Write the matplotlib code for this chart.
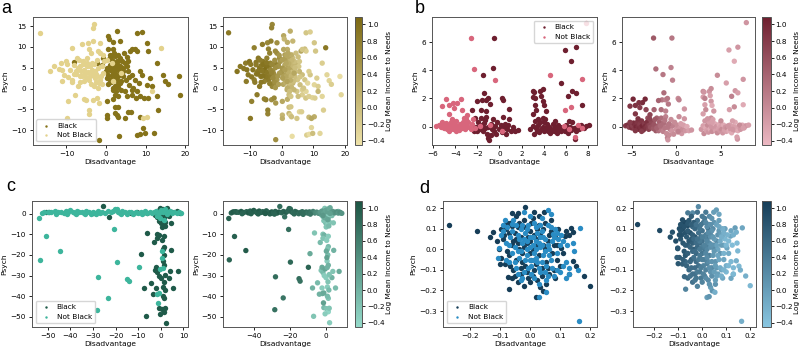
import numpy as np
import matplotlib

matplotlib.use("Agg")
import matplotlib.pyplot as plt
from matplotlib.colors import LinearSegmentedColormap

plt.rcParams["font.size"] = 5.2
plt.rcParams["axes.edgecolor"] = "#555555"
plt.rcParams["axes.linewidth"] = 0.7
for ax_ in ("xtick", "ytick"):
    plt.rcParams[f"{ax_}.major.size"] = 2.5
    plt.rcParams[f"{ax_}.major.width"] = 0.6
    plt.rcParams[f"{ax_}.major.pad"] = 2.0

# ---- panel a : (Disadvantage, Psych, Log mean income to needs) ----
a_black = [
    (2.7, 13.8, 0.2), (0.6, 12.7, 0.3), (0.8, 11.9, 0.1), (1.8, 11.1, 0.2), (7.7, 13.4, -0.1),
    (9.0, 13.6, -0.2), (10.3, 11.0, -0.1), (7.3, 9.5, 0.0), (7.7, 9.0, -0.2), (6.1, 9.0, 0.3),
    (10.7, 9.0, -0.1), (12.8, 6.1, -0.2), (14.3, 3.3, -0.3), (15.0, 1.9, -0.3), (15.7, 1.0, -0.2),
    (18.4, 2.9, -0.4), (18.8, -1.5, -0.3), (13.2, -5.2, -0.2), (12.1, -10.8, -0.3), (9.4, -9.4, -0.3),
    (7.9, -11.2, -0.2), (8.7, -11.0, -0.4), (9.8, -10.8, 0.0), (3.3, -11.5, -0.4), (-1.9, -12.3, 0.6),
    (0.2, -6.4, 0.1), (0.2, -7.2, 0.2), (0.2, -3.1, 0.3), (2.3, -4.5, 0.0), (2.9, -4.4, -0.1),
    (2.3, -6.0, 0.1), (2.7, -6.4, -0.2), (3.1, -6.8, 0.0), (4.8, -7.2, -0.1), (5.6, -5.6, -0.3),
    (6.3, -5.6, -0.2), (8.6, -6.9, 0.1), (9.7, -2.2, -0.3), (10.5, -2.3, -0.2), (7.6, -2.3, -0.1),
    (6.5, -1.5, -0.2), (5.2, -1.9, 0.0), (4.8, -0.7, -0.1), (3.9, -0.3, 0.1), (2.3, -1.5, 0.0),
    (1.8, -2.6, 0.2), (1.7, -0.3, 0.2), (12.8, -1.9, -0.3), (11.1, 2.5, -0.2), (9.0, 3.3, -0.1),
    (8.6, 4.1, -0.2), (7.3, 2.1, -0.1), (8.2, 1.3, -0.3), (6.5, 3.3, 0.0), (5.6, 4.1, 0.1),
    (5.0, 2.1, -0.1), (3.5, 1.3, 0.1), (4.2, 2.9, 0.0), (1.0, 5.7, 0.3), (1.7, 4.9, 0.2),
    (2.3, 5.3, 0.4), (2.9, 4.5, 0.1), (1.8, 3.7, 0.3), (0.6, 3.3, 0.4), (1.0, 2.1, 0.2),
    (2.0, 2.5, 0.1), (2.7, 3.3, 0.2), (3.4, 4.1, 0.0), (1.4, 6.9, 0.3), (2.7, 6.5, 0.2),
    (3.1, 5.7, 0.1), (3.5, 7.3, 0.0), (4.8, 6.1, 0.1), (5.4, 5.3, -0.1), (3.9, 4.9, 0.2),
    (4.4, 4.1, 0.0), (5.6, 6.5, -0.1), (5.2, 7.6, 0.0), (1.0, 8.1, 0.4), (2.3, 7.7, 0.3),
    (3.1, 8.1, 0.2), (1.8, 9.4, 0.2), (0.6, 9.4, 0.3), (3.5, 11.4, 0.1), (6.5, 9.4, -0.1),
    (0.2, 4.9, 0.5), (0.0, 4.1, 0.5), (2.3, 0.5, 0.1), (2.7, 0.9, 0.0), (3.1, 0.3, 0.1),
    (1.8, 0.1, 0.2), (2.5, -0.7, 0.0), (2.9, -1.9, -0.1), (-1.1, 5.7, 0.7), (-2.2, 6.1, 0.8),
    (-8.1, 6.3, 0.9), (-0.7, 7.3, 0.6), (6.5, -0.3, -0.2), (7.7, -0.7, -0.3), (8.6, -1.9, -0.2),
    (10.3, 0.9, -0.3), (11.5, 0.5, -0.2), (6.9, 0.1, -0.1), (5.8, 0.9, 0.0),
    (0.5, 1.0, 0.3), (1.2, 1.5, 0.2), (1.5, 3.0, 0.3), (2.0, 4.0, 0.2), (2.5, 5.0, 0.3),
    (3.0, 3.0, 0.1), (3.5, 5.5, 0.1), (4.0, 6.5, 0.0), (0.8, 7.0, 0.4), (2.0, 8.5, 0.3),
    (4.5, 8.5, 0.0), (3.8, 1.8, 0.0), (2.8, 2.0, 0.2), (1.0, 4.5, 0.4), (0.3, 2.5, 0.4),
    (3.2, 6.8, 0.1), (4.2, 5.0, 0.0), (2.2, 6.0, 0.2), (1.5, 8.0, 0.3), (5.8, 2.8, -0.1),
]
a_notblack = [
    (-16.8, 13.4, 0.9), (-14.1, 4.1, 0.95), (-13.1, 5.3, 0.9), (-11.4, 6.1, 0.85), (-10.2, 6.5, 0.95),
    (-9.5, -3.1, 0.8), (-9.9, -7.2, 0.9), (-8.7, 2.1, 0.8), (-8.1, 5.7, 0.85), (-7.4, 7.3, 0.9),
    (-6.1, 10.6, 0.85), (-4.5, 11.0, 0.7), (-8.7, 9.8, 0.8), (-7.0, 4.9, 0.95), (-6.6, 2.9, 0.9),
    (-5.3, 3.7, 0.85), (-5.9, 6.5, 0.9), (-4.7, 7.3, 0.8), (-4.0, 5.3, 0.9), (-5.0, -2.7, 0.85),
    (-4.4, -5.2, 0.8), (-4.4, -6.1, 0.75), (-3.0, 15.4, 0.7), (-3.2, 14.6, 0.75), (-3.2, -2.7, 0.6),
    (-2.4, -2.3, 0.7), (-1.9, -3.5, 0.5), (-3.6, 6.1, 0.8), (-2.8, 4.1, 0.7), (-2.4, 2.9, 0.6),
    (-1.5, 2.1, 0.5), (-1.1, 5.3, 0.55), (-1.5, 8.5, 0.6), (-0.5, 6.5, 0.5), (0.2, 6.9, 0.4),
    (-0.7, 3.7, 0.45), (-1.9, 1.3, 0.6), (-3.6, 3.3, 0.75), (-4.2, 2.1, 0.85), (-5.5, 1.7, 0.8),
    (-7.6, 4.1, 0.9), (-9.1, 4.5, 0.95), (-10.6, 3.3, 0.9), (-11.2, 1.7, 0.85), (13.9, 9.8, 0.9),
    (11.5, -0.7, 0.1), (10.3, -6.8, 0.2), (9.4, -7.2, 0.3), (3.9, 3.7, 0.3), (1.7, 1.7, 0.35),
    (1.4, 6.1, 0.3), (-3.4, 11.4, 0.8), (-4.9, 5.3, 0.95), (-1.5, 11.0, 0.6), (-6.5, 5.5, 0.9),
    (-5.5, 4.5, 1.0), (-4.5, 4.0, 0.9), (-3.5, 4.5, 0.7), (-2.5, 3.5, 0.65), (-2.0, 5.0, 0.6),
    (-3.0, 5.8, 0.7), (-4.0, 3.0, 0.85), (-5.0, 2.8, 0.9), (-6.0, 3.0, 0.95), (-2.5, 1.5, 0.6),
    (-1.0, 1.0, 0.4), (-8.5, 1.5, 0.85), (-7.0, 0.5, 0.9), (-11.0, 4.5, 0.95), (-3.0, 0.5, 0.7),
    (-2.0, 0.2, 0.5), (-7.8, -1.5, 0.85), (-5.5, -2.5, 0.8), (-9.8, 5.8, 0.9), (-12.0, 4.8, 0.9),
    (-8.0, 3.5, 0.9), (-6.8, 6.8, 0.85), (-3.8, 8.5, 0.8), (-2.2, 6.8, 0.6), (-0.8, 8.0, 0.5),
    (-7.5, 3.5, 0.95), (-6.2, 4.2, 0.9), (-5.8, 5.8, 0.95), (-4.8, 6.2, 0.9), (-3.2, 3.8, 0.75),
    (-2.8, 2.5, 0.65), (-3.8, 1.2, 0.8), (-6.5, 1.5, 0.9), (-9.5, 2.8, 0.9), (-4.2, 9.5, 0.8),
    (-2.0, 9.0, 0.65), (-1.2, 3.0, 0.5),
]

# ---- panel b ----
b_black = [
    (-0.5, 6.3, 0.2), (-0.6, 4.2, 0.1), (-1.5, 3.7, 0.2), (-1.4, 2.4, 0.3), (-1.6, 1.9, 0.2),
    (-2.0, 1.85, 0.4), (-1.2, 1.9, 0.1), (-1.0, 2.0, 0.2), (0.2, 2.0, 0.0), (0.3, 1.9, 0.1),
    (0.9, 1.25, -0.1), (-2.5, 1.2, 0.4), (-1.7, 1.2, 0.3), (-0.9, 1.6, 0.2), (-1.2, 1.1, 0.1),
    (5.9, 5.45, -0.2), (6.9, 5.65, -0.1), (6.5, 4.65, -0.3), (5.6, 3.1, -0.2), (6.2, 2.15, 0.1),
    (6.6, 2.55, -0.1), (6.9, 2.4, -0.2), (7.5, 1.55, -0.3), (3.0, 2.5, 0.0), (3.1, 2.45, -0.1),
    (3.0, 2.1, -0.2), (3.2, 2.0, 0.1), (3.7, 2.5, -0.1), (3.9, 2.7, 0.0), (3.8, 2.2, -0.2),
    (3.9, 1.8, -0.1), (3.2, 1.55, -0.2), (3.3, 1.2, 0.0), (4.0, 1.5, -0.3), (4.2, 1.1, -0.1),
    (3.0, 0.9, -0.2), (3.9, 0.6, 0.0),
    (-2.3, -0.3, 0.5), (-2.1, 0.0, 0.4), (-2.0, -0.3, 0.3), (-1.9, 0.3, 0.4), (-1.8, -0.2, 0.2),
    (-1.7, 0.6, 0.3), (-1.6, 0.1, 0.2), (-1.5, -0.35, 0.1), (-1.4, 0.25, 0.3), (-1.3, -0.1, 0.2),
    (-1.2, 0.7, 0.1), (-1.1, -0.5, 0.0), (-1.0, -0.8, 0.1), (-0.95, -0.95, -0.1), (-0.8, -0.6, 0.0),
    (-0.8, 0.2, 0.2), (-0.7, -0.2, 0.1), (-0.6, 0.5, 0.0), (-0.5, -0.3, -0.1), (-0.4, 0.05, 0.1),
    (-0.2, 0.3, 0.0), (0.0, -0.2, -0.1), (0.1, 0.1, 0.0), (0.2, -0.4, -0.2), (0.3, 0.7, 0.0),
    (0.4, -0.1, -0.1), (0.5, 0.2, -0.2), (0.6, -0.5, -0.1), (0.7, -0.2, 0.0), (0.8, 0.1, -0.2),
    (1.0, -0.3, -0.1), (1.2, 0.0, -0.3), (1.4, -0.3, -0.2), (1.7, -0.25, -0.1), (-2.5, 0.05, 0.5),
    (-2.2, 0.6, 0.4), (-1.0, -0.05, 0.2), (-0.3, -0.55, 0.0), (0.9, 0.55, -0.1), (-1.3, 0.45, 0.2),
    (2.8, -0.2, -0.1), (3.0, 0.05, -0.2), (3.1, -0.5, 0.0), (3.2, 0.4, -0.1), (3.3, -0.1, -0.3),
    (3.4, -0.3, -0.2), (3.5, 0.1, 0.0), (3.6, -0.4, -0.1), (3.7, 0.3, -0.2), (3.8, -0.2, -0.3),
    (3.9, 0.0, -0.1), (4.0, -0.35, 0.0), (4.1, 0.5, -0.2), (4.2, -0.1, -0.1), (4.3, 0.2, -0.3),
    (4.4, -0.3, -0.2), (4.5, 0.0, -0.1), (4.6, -0.45, 0.0), (4.7, -0.15, -0.2), (4.8, 0.15, -0.3),
    (4.9, -0.3, -0.1), (5.0, 0.0, -0.2), (5.1, -0.2, 0.0), (5.2, -0.45, -0.1), (5.3, 0.1, -0.3),
    (5.4, -0.25, -0.2), (5.5, -0.05, -0.1), (5.6, -0.35, -0.2), (5.7, -0.1, 0.0), (5.9, -0.3, -0.3),
    (6.0, 0.1, -0.2), (6.1, -0.2, -0.1), (6.2, -0.45, -0.3), (6.4, 0.0, -0.2), (6.5, -0.25, -0.1),
    (6.6, 0.3, -0.3), (6.7, -0.1, -0.2), (6.85, -0.9, -0.1), (6.9, -0.3, -0.3), (7.0, 0.0, -0.2),
    (7.2, -0.2, -0.1), (7.4, 0.1, -0.3), (7.6, -0.1, -0.2), (7.8, 0.05, -0.1), (8.1, 0.1, -0.2),
    (3.5, 0.55, -0.1), (4.0, 0.3, -0.2), (5.0, 0.4, 0.0), (6.3, 0.4, -0.2),
]
b_notblack = [
    (-4.85, 1.95, 1.0), (-4.6, 1.5, 0.9), (-5.2, 1.45, 0.85), (-4.1, 1.35, 0.8), (-3.8, 1.7, 0.95),
    (-3.5, 1.95, 1.0), (-4.2, 1.7, 0.9), (-3.4, 1.2, 0.7), (-3.2, 0.6, 0.6), (-4.6, 0.9, 0.85),
    (-2.56, 6.3, 0.5), (-2.3, 4.1, 0.3), (-0.43, 3.3, 0.1), (4.6, 3.65, 0.0), (7.5, 3.36, -0.1),
    (5.95, 1.2, -0.2), (6.5, 1.4, 0.0), (7.85, 7.4, -0.1),
    (-5.7, 0.05, 0.8), (-5.5, 0.1, 0.9), (-5.3, -0.05, 0.7), (-5.1, 0.15, 0.85), (-5.0, -0.1, 0.9),
    (-4.9, 0.05, 0.75), (-4.8, 0.25, 0.95), (-4.7, -0.15, 0.8), (-4.6, 0.1, 0.9), (-4.5, -0.05, 1.0),
    (-4.4, 0.3, 0.85), (-4.3, 0.0, 0.9), (-4.2, -0.2, 0.95), (-4.1, 0.15, 0.8), (-4.0, -0.05, 0.9),
    (-3.9, 0.4, 0.85), (-3.8, 0.05, 1.0), (-3.7, -0.25, 0.9), (-3.6, 0.2, 0.8), (-3.5, 0.0, 0.95),
    (-3.4, -0.1, 0.85), (-3.3, 0.3, 0.9), (-3.2, 0.05, 0.8), (-3.1, -0.2, 0.75), (-3.0, 0.1, 0.7),
    (-2.9, -0.05, 0.6), (-2.8, 0.35, 0.65), (-2.7, 0.0, 0.6), (-2.6, -0.15, 0.5), (-2.5, 0.15, 0.55),
    (-2.4, 0.5, 0.5), (-4.3, 0.55, 0.9), (-3.9, -0.35, 0.8), (-4.6, -0.3, 0.85), (-5.2, 0.3, 0.8),
    (-3.0, 0.55, 0.7), (-2.2, -0.1, 0.4), (-1.8, 0.05, 0.3), (0.2, -0.35, 0.1), (5.8, 0.05, -0.1),
    (6.8, -0.75, -0.2), (7.1, 0.1, 0.0), (6.3, -0.2, -0.1), (7.5, -0.1, -0.2), (-0.9, 0.1, 0.2),
    (-2.96, 0.84, 0.7),
]

# ---- panel c ----
c_black = [
    (-50.7, 0.8, 0.8), (-49.5, 0.6, 0.85), (-25.5, 3.4, 0.8), (-22.8, -1.6, 0.75), (-13.0, 0.3, 0.7),
    (-6.0, 0.4, 0.4), (-10.5, 0.6, 0.6), (-30.0, 0.2, 0.85), (5.0, 0.5, 0.1), (8.5, 0.2, -0.1),
    (7.0, 1.0, 0.0),
    (-2.0, 0.5, -0.1), (-1.0, 1.5, 0.0), (-0.5, 2.5, -0.2), (0.0, 0.0, -0.1), (0.5, 1.0, -0.3),
    (1.0, 2.0, 0.0), (1.5, 0.5, -0.2), (2.0, 1.5, -0.1), (2.5, 2.8, 0.1), (3.0, 0.8, -0.2),
    (-1.5, -1.5, -0.3), (-0.5, -2.8, -0.1), (0.5, -1.0, -0.2), (1.0, -3.5, -0.3), (1.5, -2.0, 0.0),
    (2.0, -4.0, -0.2), (0.0, -4.5, -0.1), (1.2, -5.2, -0.3), (4.3, -4.5, -0.2), (-2.5, -0.5, 0.0),
    (3.5, -1.0, -0.1), (-1.0, -3.5, -0.2), (0.8, 0.0, -0.4), (-0.2, 1.0, -0.2), (2.2, -0.5, -0.3),
    (0.3, -6.5, -0.2), (1.8, -6.0, -0.1),
    (-6.2, -9.4, -0.2), (-8.7, -19.4, 0.1), (-3.0, -14.0, -0.1), (-1.5, -10.0, -0.2), (-0.8, -10.5, 0.0),
    (1.5, -11.0, -0.3), (4.5, -17.8, 0.0), (1.5, -16.0, -0.1), (1.0, -17.2, -0.2), (0.8, -23.0, -0.3),
    (1.2, -20.0, -0.1), (1.5, -25.0, 0.0), (-2.5, -27.5, -0.2), (-2.0, -26.0, 0.1), (-1.5, -28.5, -0.1),
    (-0.8, -30.0, -0.3), (-4.5, -33.5, -0.1), (-7.3, -36.0, 0.0), (-6.7, -49.7, -0.2), (-2.0, -36.0, -0.3),
    (-1.0, -45.5, -0.1), (0.5, -46.0, -0.2), (2.2, -52.8, -0.3), (1.5, -47.5, -0.4), (1.5, -41.0, -0.2),
    (1.0, -35.5, -0.3), (1.8, -37.0, -0.1), (3.5, -31.0, 0.0), (4.0, -28.0, -0.2), (7.5, -28.0, 0.1),
    (5.5, -36.0, -0.1), (-1.5, -12.0, -0.2), (0.2, -31.0, -0.3), (2.0, -29.5, -0.2), (1.0, -40.0, -0.1),
    (-0.3, -48.5, -0.3), (2.0, -45.8, -0.2), (-3.5, -39.0, 0.0), (1.3, -33.0, -0.2), (0.6, -13.0, -0.3),
]
c_notblack = [
    (-52.5, 0.3, 0.95), (-51.5, 0.8, 1.0), (-50.0, 0.9, 0.95), (-48.5, 0.6, 0.9), (-47.0, 1.0, 1.0),
    (-45.5, 0.5, 0.95), (-44.0, 0.9, 0.9), (-43.0, 0.3, 1.0), (-42.0, 1.2, 0.95), (-41.0, 0.6, 0.9),
    (-40.0, 1.5, 1.0), (-39.0, 0.8, 0.95), (-38.0, 0.2, 0.9), (-37.0, 1.2, 1.0), (-36.0, 0.5, 0.95),
    (-35.0, 0.9, 0.9), (-34.0, 0.3, 1.0), (-33.0, 1.3, 0.95), (-32.0, 0.6, 0.9), (-31.0, -0.2, 0.95),
    (-30.0, 0.8, 1.0), (-29.0, 0.4, 0.9), (-28.0, 1.0, 0.95), (-27.0, 0.2, 0.9), (-26.0, 0.7, 1.0),
    (-24.5, 0.4, 0.85), (-23.5, 1.0, 0.9), (-22.0, 0.6, 0.95), (-21.0, 1.2, 0.85), (-20.3, 2.4, 0.9),
    (-19.6, 2.2, 0.85), (-19.0, 0.8, 0.9), (-18.0, 0.3, 0.8), (-17.0, 1.0, 0.85), (-16.0, 0.6, 0.9),
    (-15.0, -0.1, 0.8), (-14.0, 0.5, 0.85), (-13.0, 0.9, 0.8), (-12.0, 0.3, 0.75), (-11.0, 0.7, 0.8),
    (-10.0, 0.2, 0.7), (-9.0, 0.8, 0.75), (-8.0, 0.4, 0.65), (-7.0, 1.0, 0.6), (-6.0, 0.3, 0.5),
    (-5.0, 0.7, 0.45), (-4.0, 0.1, 0.4), (-3.0, 0.6, 0.3), (-2.0, 1.2, 0.25), (-1.0, 0.4, 0.2),
    (0.0, 1.5, 0.15), (1.0, 0.8, 0.2), (2.0, 2.4, 0.1), (3.0, 0.5, 0.2), (4.0, 1.0, 0.3),
    (5.0, 0.3, 0.35), (6.0, 0.8, 0.4), (7.0, 0.2, 0.3), (8.0, 0.6, 0.4), (9.0, 0.1, 0.35),
    (-46.5, -0.1, 0.9), (-37.5, -0.2, 0.95), (-28.5, -0.3, 0.9), (-17.5, -0.2, 0.85), (-12.5, -0.4, 0.8),
    (-8.5, -0.3, 0.7), (-33.5, 0.0, 1.0), (-41.5, -0.1, 0.95),
    (-53.9, -2.4, 0.95), (-50.7, -11.1, 0.95), (-44.4, -17.9, 1.0), (-53.6, -22.4, 0.9), (-27.9, -30.6, 0.8),
    (-23.6, -40.8, 0.7), (-28.3, -46.5, 0.75), (-20.6, -7.7, 0.8), (-19.6, -23.5, 0.85), (-14.8, -31.5, 0.8),
    (-14.2, -32.7, 0.75), (-9.6, -26.0, 0.9), (0.4, -18.2, 0.1), (0.7, -21.3, 0.2), (-0.3, -26.8, 0.15),
    (0.9, -26.1, 0.0), (-1.8, -38.7, 0.05), (-1.0, -38.4, 0.1), (-1.2, -43.2, 0.2), (-0.5, -2.0, 0.1),
    (1.2, -3.0, 0.15), (2.5, 0.0, 0.2), (-1.5, -1.0, 0.3),
]

# ---- panel d ----
d_black = [
    (-0.269, 0.120, 1.0), (-0.177, 0.091, 0.95), (-0.133, 0.059, 0.9), (-0.124, 0.083, 0.85),
    (-0.069, -0.194, 0.3), (-0.016, 0.207, 0.2), (-0.060, 0.177, 0.4), (-0.040, 0.177, 0.2),
    (0.048, 0.180, 0.0), (0.118, 0.064, -0.1), (0.137, 0.104, 0.0), (0.142, 0.083, -0.2),
    (0.103, 0.006, -0.1), (0.142, -0.056, -0.2), (0.153, -0.082, -0.3), (0.129, -0.122, -0.1),
    (0.181, -0.130, -0.2), (0.200, -0.177, -0.3), (0.020, -0.234, 0.0), (0.042, -0.202, 0.1),
    (-0.102, 0.003, 0.9), (-0.082, -0.072, 0.7), (-0.074, -0.133, 0.6),
    (-0.09, 0.05, 0.8), (-0.08, 0.10, 0.9), (-0.07, -0.03, 0.8), (-0.065, 0.13, 0.9), (-0.06, 0.02, 0.7),
    (-0.055, -0.10, 0.6), (-0.05, 0.08, 0.85), (-0.045, -0.05, 0.7), (-0.04, 0.11, 0.6), (-0.035, 0.0, 0.75),
    (-0.03, -0.12, 0.5), (-0.03, 0.06, 0.8), (-0.025, -0.02, 0.6), (-0.02, 0.14, 0.5), (-0.015, -0.08, 0.5),
    (-0.01, 0.03, 0.55), (-0.005, -0.14, 0.4), (0.0, 0.09, 0.5), (0.005, -0.05, 0.35), (0.01, 0.15, 0.4),
    (0.01, 0.0, 0.45), (0.015, -0.10, 0.3), (0.02, 0.05, 0.4), (0.025, -0.15, 0.2), (0.03, 0.12, 0.3),
    (0.03, -0.03, 0.35), (0.035, 0.07, 0.25), (0.04, -0.09, 0.2), (0.045, 0.02, 0.3), (0.05, 0.13, 0.1),
    (0.055, -0.06, 0.1), (0.06, 0.04, 0.2), (0.065, -0.12, 0.0), (0.07, 0.09, 0.05), (0.075, -0.02, 0.1),
    (0.08, -0.10, -0.1), (0.085, 0.06, 0.0), (0.09, -0.05, -0.1), (0.095, 0.10, -0.05), (0.10, -0.08, -0.2),
    (-0.085, 0.07, 0.85), (-0.075, -0.01, 0.8), (-0.095, -0.04, 0.75), (-0.06, -0.14, 0.6), (-0.045, 0.16, 0.7),
    (0.0, -0.16, 0.3), (0.015, 0.18, 0.4), (-0.02, -0.18, 0.3), (0.07, 0.14, 0.0), (0.09, 0.02, -0.1),
    (-0.11, 0.04, 0.9), (-0.005, 0.06, 0.6), (0.025, 0.10, 0.45), (-0.04, -0.16, 0.5), (0.055, -0.17, 0.1),
    (0.11, -0.02, -0.15), (0.035, -0.185, 0.0),
    (-0.085, 0.12, 0.9), (-0.07, 0.08, 0.85), (-0.055, 0.04, 0.8), (-0.05, -0.13, 0.5), (-0.04, 0.03, 0.7),
    (-0.035, 0.13, 0.75), (-0.025, -0.06, 0.55), (-0.02, 0.01, 0.6), (-0.015, 0.11, 0.55), (-0.01, -0.11, 0.4),
    (0.0, -0.02, 0.45), (0.005, 0.13, 0.45), (0.015, 0.07, 0.4), (0.02, -0.07, 0.3), (0.03, 0.16, 0.2),
    (0.04, -0.13, 0.15), (0.045, 0.10, 0.2), (0.06, -0.09, 0.05), (0.065, 0.07, 0.1), (0.08, 0.02, 0.0),
    (0.085, -0.14, -0.1), (-0.095, 0.10, 0.9), (-0.10, -0.07, 0.8), (-0.065, -0.08, 0.65), (-0.045, 0.05, 0.75),
    (0.0, 0.04, 0.5), (0.01, -0.13, 0.35), (0.05, 0.0, 0.2), (-0.03, -0.09, 0.55), (0.025, 0.02, 0.35),
    (-0.075, 0.13, 0.95), (-0.06, 0.115, 0.9), (0.12, 0.09, -0.1), (0.13, 0.07, -0.2),
]
d_notblack = [
    (0.164, -0.350, -0.2), (0.167, 0.104, -0.1), (0.078, 0.072, 0.0), (0.148, -0.008, -0.3),
    (0.159, -0.101, -0.2), (0.120, -0.141, -0.1), (0.029, -0.230, 0.1), (0.053, -0.209, -0.2),
    (0.059, 0.191, 0.0), (-0.102, 0.006, 0.8), (-0.082, 0.143, 0.9), (-0.105, -0.04, 0.7), (-0.09, 0.12, 0.85),
    (-0.08, 0.03, 0.8), (-0.075, 0.11, 0.85), (-0.07, -0.06, 0.6), (-0.065, 0.06, 0.75), (-0.06, -0.02, 0.7),
    (-0.055, 0.14, 0.8), (-0.05, 0.01, 0.65), (-0.045, -0.09, 0.55), (-0.04, 0.07, 0.7), (-0.035, -0.04, 0.5),
    (-0.03, 0.10, 0.6), (-0.025, 0.03, 0.55), (-0.02, -0.11, 0.4), (-0.015, 0.08, 0.5), (-0.01, -0.03, 0.4),
    (-0.005, 0.12, 0.45), (0.0, 0.01, 0.35), (0.005, -0.08, 0.3), (0.01, 0.06, 0.3), (0.015, -0.02, 0.25),
    (0.02, 0.11, 0.2), (0.025, -0.06, 0.2), (0.03, 0.03, 0.15), (0.035, -0.11, 0.1), (0.04, 0.09, 0.1),
    (0.045, -0.03, 0.05), (0.05, 0.05, 0.0), (0.055, -0.08, 0.0), (0.06, 0.12, -0.05), (0.065, 0.0, -0.1),
    (0.07, -0.05, -0.1), (0.075, 0.04, -0.15), (0.08, -0.13, -0.2), (0.085, 0.10, -0.2), (0.09, -0.02, -0.25),
    (0.095, 0.05, -0.3), (0.10, -0.11, -0.3), (0.105, 0.07, -0.25), (0.12, -0.06, -0.3), (0.125, 0.02, -0.35),
    (0.13, -0.09, -0.3), (0.015, -0.14, 0.2), (0.0, 0.16, 0.4), (-0.02, 0.18, 0.5), (0.04, 0.15, 0.1),
    (0.055, -0.15, 0.0), (-0.03, -0.15, 0.4), (0.03, -0.17, 0.1), (-0.01, 0.04, 0.4), (0.01, -0.05, 0.3),
    (-0.04, -0.01, 0.6), (0.02, 0.0, 0.25), (0.035, 0.06, 0.15), (0.05, -0.01, 0.05), (-0.06, 0.09, 0.75),
    (0.11, 0.04, -0.3), (0.09, 0.08, -0.2), (-0.095, 0.07, 0.9), (0.145, 0.03, -0.35), (0.13, -0.12, -0.3),
    (-0.09, 0.09, 0.85), (-0.08, -0.05, 0.7), (-0.07, 0.02, 0.75), (-0.06, 0.125, 0.8), (-0.05, -0.06, 0.6),
    (-0.045, 0.12, 0.7), (-0.04, -0.12, 0.5), (-0.035, 0.05, 0.6), (-0.03, -0.01, 0.55), (-0.025, 0.12, 0.5),
    (-0.02, 0.05, 0.5), (-0.015, -0.05, 0.4), (-0.01, 0.10, 0.45), (-0.005, -0.09, 0.35), (0.0, 0.06, 0.35),
    (0.005, -0.12, 0.3), (0.01, 0.02, 0.3), (0.015, 0.13, 0.25), (0.02, -0.04, 0.2), (0.025, 0.08, 0.2),
    (0.03, -0.09, 0.15), (0.035, 0.01, 0.15), (0.04, -0.06, 0.1), (0.045, 0.06, 0.05), (0.05, -0.11, 0.0),
    (0.06, 0.02, -0.05), (0.065, -0.03, -0.1), (0.07, 0.11, -0.1), (0.075, -0.09, -0.15), (0.08, 0.06, -0.2),
    (0.09, -0.10, -0.25), (0.10, 0.02, -0.3), (0.11, -0.08, -0.3), (0.0, -0.05, 0.35), (-0.01, 0.0, 0.4),
    (0.02, 0.04, 0.25), (0.04, 0.02, 0.1), (-0.025, -0.14, 0.45), (0.06, -0.13, -0.05), (0.07, 0.17, -0.1),
    (0.035, 0.12, 0.15),
]

PANELS = {
    "a": dict(black=a_black, notblack=a_notblack, dark="#86731a", light="#e3d28c",
              cmap=("#ede1a8", "#7c6913"), xlim=(-18.5, 20.7), ylim=(-13.6, 17.2),
              xt=[-10, 0, 10, 20], xt_r=[-10, 0, 10, 20], yt=[-10, -5, 0, 5, 10, 15], loc="lower left"),
    "b": dict(black=b_black, notblack=b_notblack, dark="#6e1f2f", light="#d8667c",
              cmap=("#ebb8c2", "#6e1f2f"), xlim=(-6.1, 8.8), ylim=(-1.32, 7.8),
              xt=[-6, -4, -2, 0, 2, 4, 6, 8], xt_r=[-5, 0, 5], yt=[0, 2, 4, 6], loc="upper right"),
    "c": dict(black=c_black, notblack=c_notblack, dark="#1f5a49", light="#3db59c",
              cmap=("#94d9c9", "#1c5443"), xlim=(-57.0, 12.0), ylim=(-54.8, 6.1),
              xt=[-50, -40, -30, -20, -10, 0, 10], xt_r=[-40, -20, 0], yt=[0, -10, -20, -30, -40, -50],
              loc="lower left"),
    "d": dict(black=d_black, notblack=d_notblack, dark="#163d57", light="#2a8cc4",
              cmap=("#88c5e0", "#163d57"), xlim=(-0.289, 0.224), ylim=(-0.377, 0.235),
              xt=[-0.2, -0.1, 0.0, 0.1, 0.2], xt_r=[-0.2, -0.1, 0.0, 0.1, 0.2],
              yt=[0.2, 0.1, 0.0, -0.1, -0.2, -0.3], loc="lower left"),
}

# axes rectangles [left, bottom, width, height] in figure fractions
TOP, BOT = (0.582, 0.369), (0.058, 0.363)
RECTS = {
    "a": ([0.041, TOP[0], 0.194, TOP[1]], [0.279, TOP[0], 0.155, TOP[1]], [0.444, TOP[0], 0.009, TOP[1]]),
    "b": ([0.540, TOP[0], 0.206, TOP[1]], [0.7775, TOP[0], 0.166, TOP[1]], [0.9525, TOP[0], 0.011, TOP[1]]),
    "c": ([0.040, BOT[0], 0.195, BOT[1]], [0.279, BOT[0], 0.155, BOT[1]], [0.444, BOT[0], 0.009, BOT[1]]),
    "d": ([0.554, BOT[0], 0.1925, BOT[1]], [0.791, BOT[0], 0.154, BOT[1]], [0.9525, BOT[0], 0.011, BOT[1]]),
}
LETTERS = {"a": (0.002, 0.962), "b": (0.519, 0.962), "c": (0.008, 0.450), "d": (0.524, 0.443)}

VMIN, VMAX = -0.45, 1.09
S = 15

fig = plt.figure(figsize=(8.0, 3.47), dpi=100)

for key, p in PANELS.items():
    bk = np.array(p["black"])
    nb = np.array(p["notblack"])
    r_l, r_r, r_c = RECTS[key]
    ax_l = fig.add_axes(r_l)
    ax_r = fig.add_axes(r_r)
    cax = fig.add_axes(r_c)

    ax_l.scatter(bk[:, 0], bk[:, 1], s=S, color=p["dark"], linewidths=0, label="Black")
    ax_l.scatter(nb[:, 0], nb[:, 1], s=S, color=p["light"], linewidths=0, label="Not Black")
    ax_l.legend(loc=p["loc"], fontsize=5.3, markerscale=0.45, handletextpad=0.6,
                borderpad=0.45, labelspacing=0.45, handlelength=1.8)

    allp = np.vstack([bk, nb])
    cmap = LinearSegmentedColormap.from_list(key, p["cmap"])
    sc = ax_r.scatter(allp[:, 0], allp[:, 1], c=allp[:, 2], s=S, cmap=cmap,
                      vmin=VMIN, vmax=VMAX, linewidths=0)
    cb = fig.colorbar(sc, cax=cax)
    cb.set_ticks([-0.4, -0.2, 0.0, 0.2, 0.4, 0.6, 0.8, 1.0])
    cb.ax.tick_params(length=2, pad=1.2)
    cb.set_label("Log Mean Income to Needs", fontsize=5.3, labelpad=1)
    cb.outline.set_edgecolor("#555555")
    cb.outline.set_linewidth(0.7)

    for ax, xt in ((ax_l, p["xt"]), (ax_r, p["xt_r"])):
        ax.set_xlim(*p["xlim"])
        ax.set_ylim(*p["ylim"])
        ax.set_xticks(xt)
        ax.set_yticks(p["yt"])
        ax.set_xlabel("Disadvantage", fontsize=5.4, labelpad=1.5)
        ax.set_ylabel("Psych", fontsize=5.4, labelpad=2)

    fig.text(*LETTERS[key], key, fontsize=13, family="Liberation Sans", va="baseline")

fig.savefig("out.png", dpi=100)
